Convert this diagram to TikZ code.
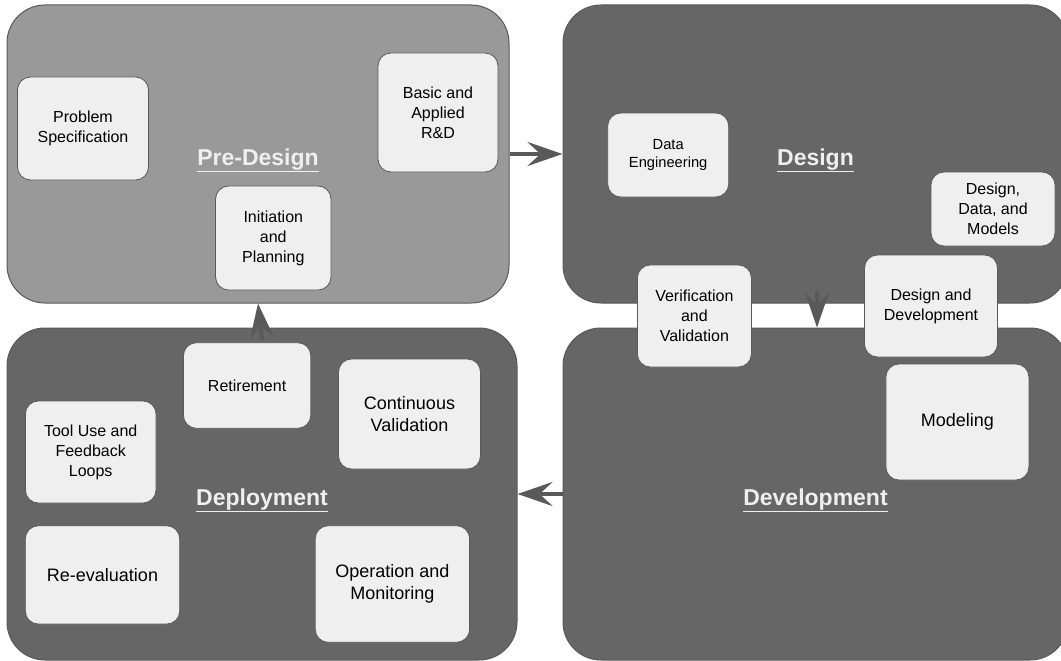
\documentclass[tikz,border=0pt]{standalone}
\usepackage{fontspec}
\setmainfont{Liberation Sans}
\usepackage{xcolor}
\usetikzlibrary{arrows.meta, positioning}
\definecolor{phasedark}{HTML}{666666}
\definecolor{phaselight}{HTML}{999999}
\definecolor{boxfill}{HTML}{EFEFEF}
\definecolor{edgegray}{HTML}{595959}
\tikzset{%
>={Stealth[length=35pt,width=24pt,inset=13pt]},
% Specifications for style of nodes:
phase/.style = {draw=edgegray, line width=1pt, rounded corners=38pt, fill=phasedark, text=boxfill, inner sep=0, text height=22pt, text depth=0pt, font=\bfseries\fontsize{23}{28}\selectfont},
phaseLight/.style = {phase, fill=phaselight},
task/.style = {draw=edgegray, line width=0.8pt, fill=boxfill, rounded corners=13pt, inner sep=0, align=center, text centered, font=\fontsize{16}{20}\selectfont},
taskSmall/.style = {task, font=\fontsize{14.7}{17.7}\selectfont},
taskLarge/.style = {task, font=\fontsize{18}{22.4}\selectfont},
flow/.style = {draw=edgegray, line width=4pt, ->},
}

\begin{document}
\begin{tikzpicture}[x=1pt, y=-1pt]
        \useasboundingbox (0,0) rectangle (1061,661);
        % Specification of the four phases
        \node (predesign) [phaseLight, minimum width=502pt, minimum height=298pt] at (258,154) {\underline{Pre-Design}};
        \node (design) [phase, minimum width=505pt, minimum height=298pt] at (815.5,154) {\underline{Design}};
        \node (deployment) [phase, minimum width=510pt, minimum height=332pt] at (262,494) {\underline{Deployment}};
        \node (development) [phase, minimum width=505pt, minimum height=332pt] at (815.5,494) {\underline{Development}};

        \draw [flow] (predesign.east) -- (design.west);
        \draw [flow] ([xshift=1.5pt, yshift=13pt]design.south) -- ([xshift=1.5pt]development.north);
        \draw [flow] (development.west) -- (deployment.east);
        \draw [flow] ([yshift=-12pt]deployment.north) -- (predesign.south);

        % Specification of the activities
        \node (probSpec) [task, minimum width=131pt, minimum height=103pt] at (83,128.5) {Problem\\Specification};
        \node (basicRD) [task, minimum width=120pt, minimum height=119pt] at (438,112.5) {Basic and\\Applied\\R\&D};
        \node (initiation) [task, minimum width=115.5pt, minimum height=104pt] at (273.3,238) {Initiation\\and\\Planning};
        \node (dataEng) [taskSmall, minimum width=121pt, minimum height=84pt] at (668.2,155) {Data\\Engineering};
        \node (designData) [task, minimum width=124pt, minimum height=74pt] at (993,209) {Design,\\Data, and\\Models};
        \node (verification) [task, minimum width=114pt, minimum height=102pt] at (694.4,316) {Verification\\and\\Validation};
        \node (designDev) [task, minimum width=133pt, minimum height=102pt] at (931,306) {Design and\\Development};
        \node (modeling) [taskLarge, minimum width=143pt, minimum height=116pt] at (957.4,422) {Modeling};
        \node (retirement) [task, minimum width=127.4pt, minimum height=85.6pt] at (247.1,385.5) {Retirement};
        \node (contVal) [taskLarge, minimum width=142pt, minimum height=110pt] at (409.5,414) {Continuous\\Validation};
        \node (toolUse) [task, minimum width=130.7pt, minimum height=102pt] at (90.7,452) {Tool Use and\\Feedback\\Loops};
        \node (reEval) [taskLarge, minimum width=154.4pt, minimum height=98.3pt] at (102.5,574.9) {Re-evaluation};
        \node (opMon) [taskLarge, minimum width=154.4pt, minimum height=116.6pt] at (392.4,584) {Operation and\\Monitoring};
    \end{tikzpicture}
\end{document}
